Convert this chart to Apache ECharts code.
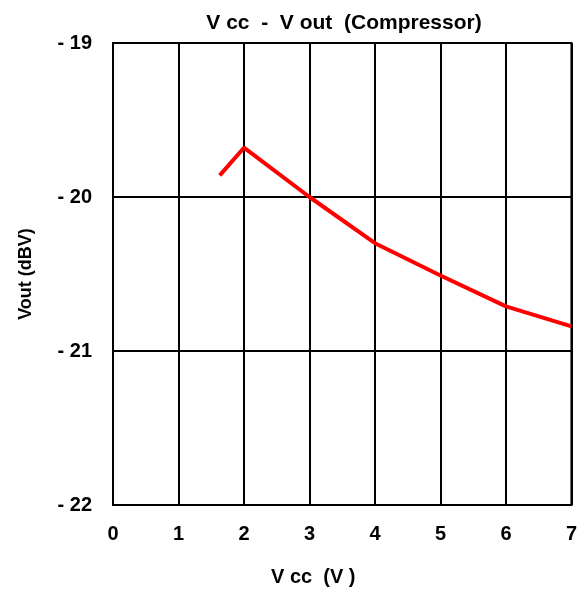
<!DOCTYPE html>
<html>
<head>
<meta charset="utf-8">
<script src="https://cdn.jsdelivr.net/npm/echarts@6/dist/echarts.min.js"></script>
<style>
  html, body { margin: 0; padding: 0; background: #fff; }
  #main { width: 580px; height: 592px; }
</style>
</head>
<body>
<div id="main"></div>
<script>
var vcc = [1.63, 2, 3, 4, 5, 6, 7];
var vout = [-19.86, -19.68, -20.0, -20.3, -20.51, -20.71, -20.84];

var myChart = echarts.init(document.getElementById('main'));
var font = 'Liberation Sans, Arial, sans-serif';

var option = {
    animation: false,
    backgroundColor: '#fff',
    title: {
        text: 'V cc  -  V out  (Compressor)',
        left: 339,
        textAlign: 'center',
        top: 8,
        textStyle: { fontFamily: font, fontSize: 21, fontWeight: 'bold', color: '#000' }
    },
    grid: { left: 113, right: 8, top: 43, bottom: 84, show: true, borderColor: '#000', borderWidth: 2 },
    xAxis: {
        type: 'value',
        min: 0, max: 7, interval: 1,
        name: 'V cc  (V )',
        nameLocation: 'middle',
        nameGap: 62,
        nameTextStyle: { fontFamily: font, fontSize: 20, fontWeight: 'bold', color: '#000', padding: [0, 58, 0, 0] },
        axisLine: { show: false },
        axisTick: { show: false },
        axisLabel: { fontFamily: font, fontSize: 20, fontWeight: 'bold', color: '#000', margin: 19 },
        splitLine: { show: true, lineStyle: { color: '#000', width: 2 } }
    },
    yAxis: {
        type: 'value',
        min: -22, max: -19, interval: 1,
        name: 'Vout (dBV)',
        nameLocation: 'middle',
        nameGap: 78,
        nameRotate: 90,
        nameTextStyle: { fontFamily: font, fontSize: 18, fontWeight: 'bold', color: '#000' },
        axisLine: { show: false },
        axisTick: { show: false },
        axisLabel: {
            fontFamily: font, fontSize: 20, fontWeight: 'bold', color: '#000', margin: 21,
            formatter: function (v) { return '- ' + Math.abs(v); }
        },
        splitLine: { show: true, lineStyle: { color: '#000', width: 2 } }
    },
    series: [{
        type: 'line',
        data: vcc.map(function (v, i) { return [v, vout[i]]; }),
        showSymbol: false,
        lineStyle: { color: '#ff0000', width: 4 }
    }]
};

myChart.setOption(option);
</script>
</body>
</html>
